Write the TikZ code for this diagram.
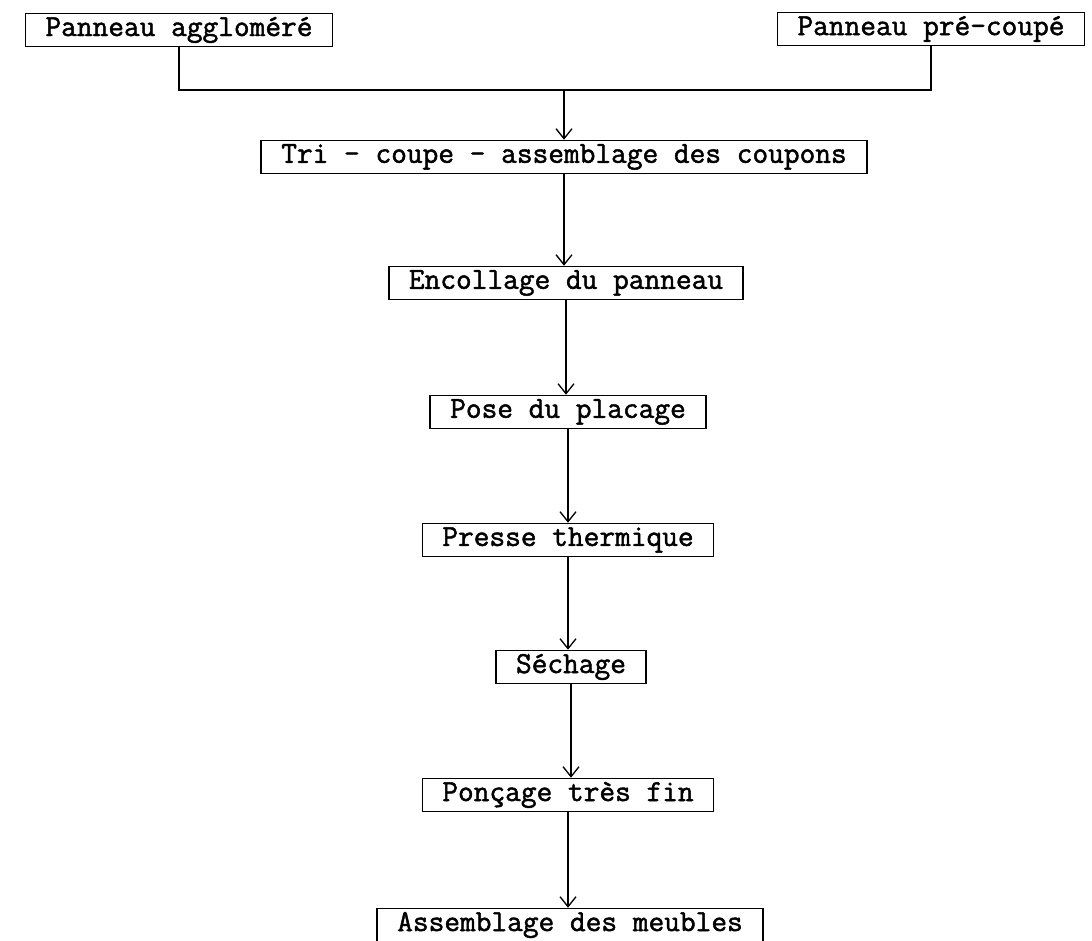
\documentclass[tikz,border=0pt]{standalone}
\usepackage{fontspec}
\newfontfamily\tw{Latin Modern Mono}[FakeBold=1.6]
\usetikzlibrary{arrows.meta}
\begin{document}
\begin{tikzpicture}[x=1pt,y=-1pt,
  stepbox/.style={draw, line width=1.6pt, inner xsep=20pt, inner ysep=0pt,
    minimum height=33pt, font=\fontsize{30.5}{34}\tw},
  link/.style={line width=1.4pt},
  arr/.style={link, -{Straight Barb[length=10pt,width=16pt,line width=1.3pt]}}]
\useasboundingbox (0,0) rectangle (1092,941);
\node[stepbox] (b1) at (179,30) {Panneau aggloméré};
\node[stepbox] (b2) at (931,29) {Panneau pré-coupé};
\node[stepbox] (tri) at (564,157) {Tri - coupe - assemblage des coupons};
\node[stepbox] (enc) at (566,283) {Encollage du panneau};
\node[stepbox] (pose) at (568,412) {Pose du placage};
\node[stepbox] (pres) at (568,540) {Presse thermique};
\node[stepbox] (sech) at (571,667) {Séchage};
\node[stepbox] (ponc) at (568,795) {Ponçage très fin};
\node[stepbox] (asm) at (570,925) {Assemblage des meubles};
\coordinate (j) at (564,90);
\draw[link] (b1.south) |- (j) -| (b2.south);
\draw[arr] (j) -- (tri.north);
\draw[arr] (tri.south) -- (tri.south |- enc.north);
\draw[arr] (enc.south) -- (enc.south |- pose.north);
\draw[arr] (pose.south) -- (pose.south |- pres.north);
\draw[arr] (pres.south) -- (pres.south |- sech.north);
\draw[arr] (sech.south) -- (sech.south |- ponc.north);
\draw[arr] (ponc.south) -- (ponc.south |- asm.north);
\end{tikzpicture}
\end{document}
